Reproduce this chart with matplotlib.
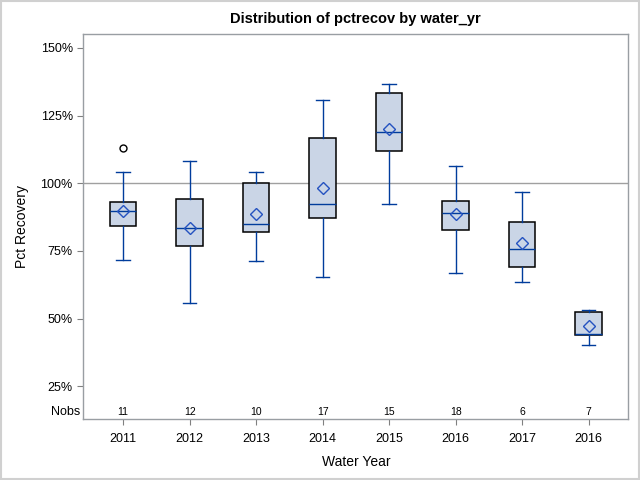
import matplotlib
matplotlib.use("Agg")
from matplotlib import pyplot as plt
from matplotlib.patches import Rectangle
from matplotlib.ticker import FuncFormatter

plt.rcParams['font.family'] = ['Liberation Sans', 'DejaVu Sans']

years = ['2011', '2012', '2013', '2014', '2015', '2016', '2017', '2016']
nobs = [11, 12, 10, 17, 15, 18, 6, 7]
whis_lo = [71.6, 55.8, 71.2, 65.3, 92.2, 66.8, 63.5, 40.3]
q1 = [84.1, 76.7, 81.9, 87.0, 112.0, 82.6, 69.1, 44.0]
median = [89.7, 83.3, 84.8, 92.5, 119.0, 88.9, 75.7, 44.4]
q3 = [93.0, 94.0, 100.0, 116.8, 133.3, 93.3, 85.5, 52.5]
whis_hi = [104.3, 108.3, 104.3, 130.8, 136.7, 106.5, 96.9, 53.2]
mean = [89.7, 83.6, 88.5, 98.4, 120.1, 88.6, 77.8, 47.3]
outliers = [[113.1], [], [], [], [], [], [], []]

stats = []
for i in range(len(years)):
    stats.append(dict(whislo=whis_lo[i], q1=q1[i], med=median[i], q3=q3[i],
                      whishi=whis_hi[i], mean=mean[i], fliers=outliers[i]))

blue = '#003c9c'
fig = plt.figure(figsize=(6.4, 4.8), dpi=100)
ax = fig.add_axes([0.130, 0.127, 0.852, 0.802])

ax.axhline(100, color='#a0a0a0', lw=1, zorder=1)
ax.bxp(stats, positions=range(len(years)), widths=0.4, capwidths=0.2,
       showmeans=True, patch_artist=True,
       boxprops=dict(facecolor='#cad5e6', edgecolor='black', lw=1.1),
       whiskerprops=dict(color=blue, lw=1.0),
       capprops=dict(color=blue, lw=1.0),
       medianprops=dict(color=blue, lw=1.0),
       meanprops=dict(marker='D', markerfacecolor='none', markeredgecolor='#2452c0',
                      markersize=6.5, markeredgewidth=1.0),
       flierprops=dict(marker='o', markerfacecolor='none', markeredgecolor='black',
                       markersize=5, markeredgewidth=1.0),
       zorder=3)

for i, n in enumerate(nobs):
    ax.text(i, 15.6, str(n), ha='center', va='center', fontsize=7.5)
ax.text(-0.64, 15.6, 'Nobs', ha='right', va='center', fontsize=9)

ax.set_xlim(-0.6, 7.6)
ax.set_ylim(12.9, 155.1)
ax.set_xticks(range(len(years)))
ax.set_xticklabels(years)
ax.set_yticks([25, 50, 75, 100, 125, 150])
ax.yaxis.set_major_formatter(FuncFormatter(lambda v, p: '%d%%' % v))
ax.tick_params(axis='both', colors='#808080', labelcolor='black', labelsize=9, length=4)
ax.tick_params(axis='x', pad=6)
for s in ax.spines.values():
    s.set_color('#999ea3')
    s.set_linewidth(1)

ax.set_xlabel('Water Year', fontsize=10, labelpad=7)
ax.set_ylabel('Pct Recovery', fontsize=10, labelpad=8)
ax.set_title('Distribution of pctrecov by water_yr', fontsize=10.5, fontweight='bold', pad=8)

fig.patches.append(Rectangle((0.0015, 0.002), 0.997, 0.996, transform=fig.transFigure,
                             fill=False, edgecolor='#d0d0d0', lw=1.5))

fig.savefig('out.png', dpi=100)
